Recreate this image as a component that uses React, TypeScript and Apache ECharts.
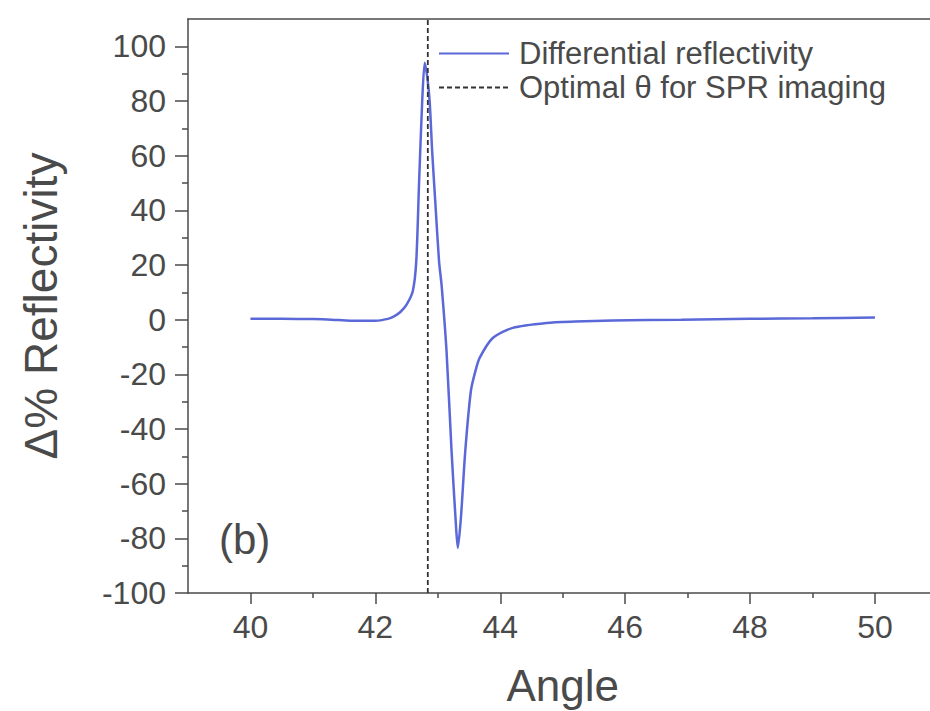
import React, { useEffect, useRef } from 'react';
import * as echarts from 'echarts';

const angles = [40, 40.5, 41, 41.3, 41.6, 42, 42.2, 42.3, 42.4, 42.5, 42.6, 42.655, 42.7, 42.75, 42.79, 42.83, 42.87, 42.91, 42.96, 43.02, 43.06, 43.14, 43.22, 43.29, 43.32, 43.37, 43.44, 43.53, 43.6, 43.67, 43.88, 44.2, 44.74, 45.2, 45.8, 46.9, 48, 49, 50];
const reflectivity = [0.3, 0.3, 0.2, 0, -0.4, -0.4, 0.3, 1.2, 2.8, 5.5, 10.5, 21.3, 50, 79.8, 94, 89, 79.8, 61.5, 43, 21.3, 12.8, -11.6, -48, -75, -83.5, -72.5, -48, -26, -19, -14, -6.7, -3, -1.2, -0.7, -0.3, 0, 0.3, 0.5, 0.8];
const optimalAngle = 42.84;
const xRange = [39, 51];
const yRange = [-100, 110];
const xTicks = [40, 42, 44, 46, 48, 50];
const xMinorTicks = [41, 43, 45, 47, 49];
const yTicks = [-100, -80, -60, -40, -20, 0, 20, 40, 60, 80, 100];
const yMinorTicks = [-90, -70, -50, -30, -10, 10, 30, 50, 70, 90];
const seriesNames = ['Differential reflectivity', 'Optimal \u03b8 for SPR imaging'];
const xName = 'Angle';
const yName = '\u0394% Reflectivity';
const panelLabel = '(b)';

const FONT = '"Liberation Sans", Arial, Helvetica, sans-serif';
const AXIS = '#4a4a4a';
const TEXT = '#4a4a4a';

export default function App() {
  const ref = useRef<HTMLDivElement>(null);
  useEffect(() => {
    if (!ref.current) return;
    const chart = echarts.init(ref.current, null, { renderer: 'svg' });
    const option: any = {
      animation: false,
      backgroundColor: '#ffffff',
      textStyle: { fontFamily: FONT },
      grid: { left: 188, top: 19, bottom: 118, right: -7.4, containLabel: false, outerBoundsMode: 'none' },
      legend: {
        data: seriesNames,
        orient: 'vertical',
        left: 433,
        top: 33,
        itemWidth: 70,
        itemHeight: 14,
        itemGap: 3,
        itemStyle: { opacity: 0 },
        textStyle: { fontFamily: FONT, fontSize: 31, color: TEXT, lineHeight: 31, padding: [0, 0, 0, 5] },
      },
      xAxis: [
        {
          type: 'value', min: xRange[0], max: xRange[1], position: 'bottom',
          name: xName, nameLocation: 'middle', nameGap: 70,
          nameTextStyle: { fontFamily: FONT, fontSize: 44, color: TEXT },
          axisLine: { show: true, onZero: false, lineStyle: { color: AXIS, width: 1.5 } },
          axisTick: { show: true, inside: false, length: 11, customValues: xTicks, lineStyle: { color: AXIS, width: 1.5 } },
          axisLabel: { show: true, customValues: xTicks, margin: 18, fontFamily: FONT, fontSize: 32, color: TEXT },
          splitLine: { show: false },
        },
        {
          type: 'value', min: xRange[0], max: xRange[1], position: 'bottom', offset: 0,
          axisLine: { show: false, onZero: false },
          axisTick: { show: true, inside: false, length: 5, customValues: xMinorTicks, lineStyle: { color: AXIS, width: 1.5 } },
          axisLabel: { show: false },
          splitLine: { show: false },
        },
        {
          type: 'value', min: xRange[0], max: xRange[1], position: 'top',
          axisLine: { show: true, onZero: false, lineStyle: { color: AXIS, width: 1.5 } },
          axisTick: { show: false },
          axisLabel: { show: false },
          splitLine: { show: false },
        },
      ],
      yAxis: [
        {
          type: 'value', min: yRange[0], max: yRange[1], position: 'left',
          name: yName, nameLocation: 'middle', nameGap: 124, nameRotate: 90,
          nameTextStyle: { fontFamily: FONT, fontSize: 46, color: TEXT },
          axisLine: { show: true, onZero: false, lineStyle: { color: AXIS, width: 1.5 } },
          axisTick: { show: true, inside: false, length: 13, customValues: yTicks, lineStyle: { color: AXIS, width: 1.5 } },
          axisLabel: { show: true, customValues: yTicks, margin: 22, fontFamily: FONT, fontSize: 32, color: TEXT },
          splitLine: { show: false },
        },
        {
          type: 'value', min: yRange[0], max: yRange[1], position: 'left', offset: 0,
          axisLine: { show: false, onZero: false },
          axisTick: { show: true, inside: false, length: 6, customValues: yMinorTicks, lineStyle: { color: AXIS, width: 1.5 } },
          axisLabel: { show: false },
          splitLine: { show: false },
        },
      ],
      graphic: [
        {
          type: 'text', left: 219, top: 518,
          style: { text: panelLabel, fontFamily: FONT, fontSize: 42, fill: TEXT },
        },
      ],
      series: [
        {
          name: seriesNames[0], type: 'line', xAxisIndex: 0, yAxisIndex: 0,
          data: angles.map((a, i) => [a, reflectivity[i]]),
          symbol: 'none', smooth: 0.25,
          lineStyle: { color: '#5a68d8', width: 2.5 },
          itemStyle: { color: '#5a68d8', opacity: 0 },
          z: 2,
        },
        {
          name: seriesNames[1], type: 'line', xAxisIndex: 0, yAxisIndex: 0,
          data: [[optimalAngle, yRange[0]], [optimalAngle, yRange[1]]],
          symbol: 'none',
          lineStyle: { color: '#333333', width: 1.8, type: [5, 3] },
          itemStyle: { color: '#333333', opacity: 0 },
          z: 3,
        },
      ],
    };
    chart.setOption(option);
    return () => chart.dispose();
  }, []);
  return (
    <div
      ref={ref}
      style={{ position: 'fixed', left: 0, top: 0, width: 930, height: 711, background: '#fff' }}
    />
  );
}
